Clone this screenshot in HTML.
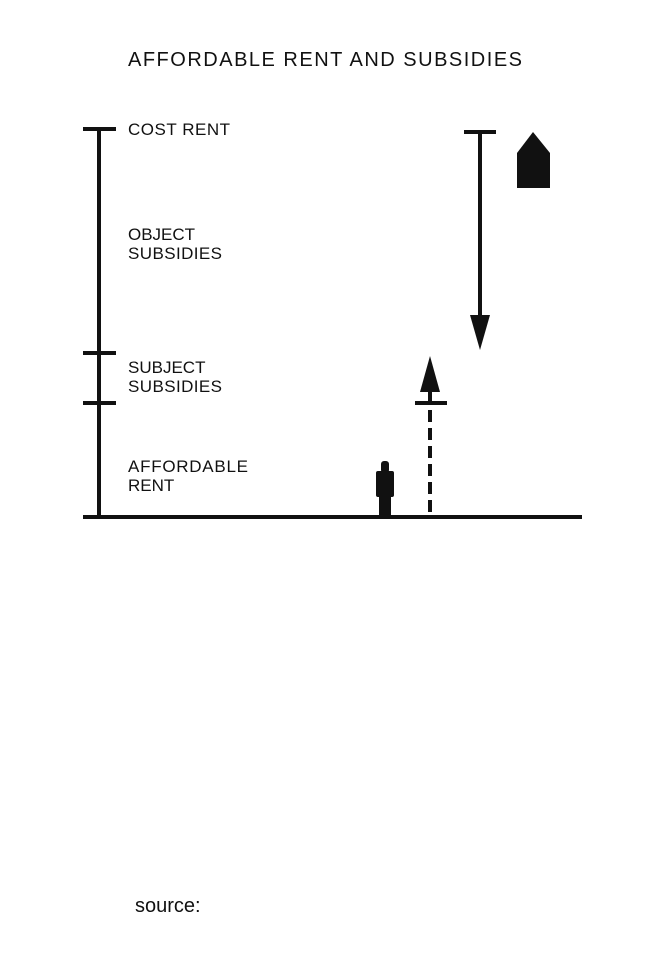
<!DOCTYPE html>
<html><head><meta charset="utf-8"><style>
body{margin:0;background:#fff;width:665px;height:960px;overflow:hidden}
svg{display:block}
text{font-family:"Liberation Sans",sans-serif;fill:#111}
</style></head><body>
<svg width="665" height="960" viewBox="0 0 665 960">
<text x="128" y="66" font-size="20" textLength="394">AFFORDABLE RENT AND SUBSIDIES</text>
<g stroke="#111" stroke-width="4" fill="none">
<line x1="99" y1="129" x2="99" y2="517"/>
<line x1="83" y1="129" x2="116" y2="129"/>
<line x1="83" y1="353" x2="116" y2="353"/>
<line x1="83" y1="403" x2="116" y2="403"/>
<line x1="83" y1="517" x2="582" y2="517"/>
<line x1="464" y1="132" x2="496" y2="132"/>
<line x1="480" y1="132" x2="480" y2="320"/>
<line x1="415" y1="403" x2="447" y2="403"/>
<line x1="430" y1="392" x2="430" y2="517" stroke-dasharray="12,6"/>
</g>
<polygon points="470,315 490,315 480,350" fill="#111"/>
<polygon points="420,392 440,392 430,356" fill="#111"/>
<polygon points="517,153 533,132 550,153 550,188 517,188" fill="#111"/>
<g fill="#111">
<rect x="381" y="461" width="8" height="12" rx="3"/>
<rect x="376" y="471" width="18" height="26" rx="2"/>
<rect x="379" y="495" width="12" height="22"/>
</g>
<g font-size="17">
<text x="128" y="135" textLength="102">COST RENT</text>
<text x="128" y="240">OBJECT</text>
<text x="128" y="259" textLength="94">SUBSIDIES</text>
<text x="128" y="373">SUBJECT</text>
<text x="128" y="392" textLength="94">SUBSIDIES</text>
<text x="128" y="472" textLength="120">AFFORDABLE</text>
<text x="128" y="491">RENT</text>
</g>
<text x="135" y="912" font-size="20">source:</text>
</svg>
</body></html>
